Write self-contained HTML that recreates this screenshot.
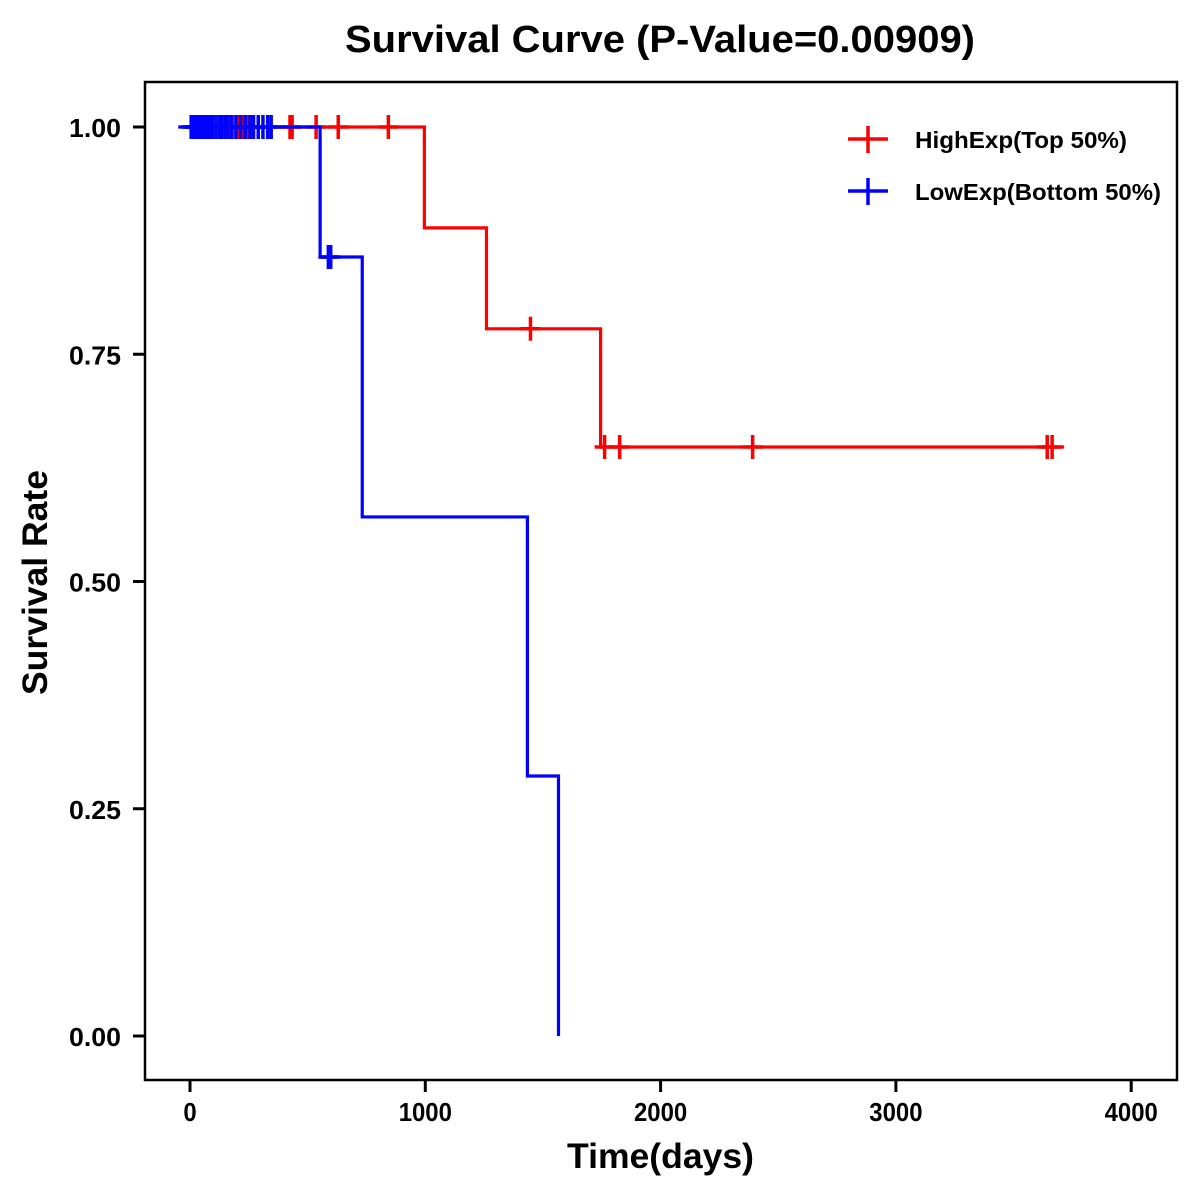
<!DOCTYPE html>
<html><head><meta charset="utf-8"><style>
html,body{margin:0;padding:0;background:#fff;}
svg{display:block;font-family:"Liberation Sans",Arial,sans-serif;}
</style></head><body>
<svg id="chart" width="1200" height="1200">
<rect x="0" y="0" width="1200" height="1200" fill="#fff"/>
<text x="345" y="52" textLength="630" lengthAdjust="spacingAndGlyphs" font-size="38" font-weight="bold">Survival Curve (P-Value=0.00909)</text>
<rect x="145" y="82" width="1032" height="998" fill="none" stroke="#000" stroke-width="2.5"/>
<g id="axes"></g>
<g id="series"></g>
<text x="567" y="1168" textLength="187" lengthAdjust="spacingAndGlyphs" font-size="35" font-weight="bold">Time(days)</text>
<text transform="translate(47,695) rotate(-90)" textLength="225" lengthAdjust="spacingAndGlyphs" font-size="35" font-weight="bold">Survival Rate</text>
<g>
<g>
<line x1="848" y1="139" x2="888" y2="139" stroke="#f00" stroke-width="3.5"/>
<line x1="868" y1="126" x2="868" y2="153" stroke="#f00" stroke-width="3.5"/>
<text x="915" y="148" textLength="212" lengthAdjust="spacingAndGlyphs" font-size="23" font-weight="bold">HighExp(Top 50%)</text>
</g>
<g>
<line x1="848" y1="191" x2="888" y2="191" stroke="#00f" stroke-width="3.5"/>
<line x1="868" y1="178" x2="868" y2="205" stroke="#00f" stroke-width="3.5"/>
<text x="915" y="200" textLength="246" lengthAdjust="spacingAndGlyphs" font-size="23" font-weight="bold">LowExp(Bottom 50%)</text>
</g>
</g>
</svg>
<script>
const xTicks = [0, 1000, 2000, 3000, 4000];
const yTicks = [0, 0.25, 0.5, 0.75, 1.0];
const yTickLabels = ["0.00", "0.25", "0.50", "0.75", "1.00"];
const highTimes = [0, 996, 1260, 1745, 3715];
const highSurv = [1.0, 0.889, 0.778, 0.648, 0.648];
const highCensor = [180, 205, 225, 245, 258, 268, 425, 434, 536, 630, 843, 1447, 1762, 1826, 2391, 3643, 3664];
const lowTimes = [-50, 553, 732, 1434, 1566];
const lowSurv = [1.0, 0.857, 0.571, 0.286, 0.0];
const lowCensor = [5, 12, 20, 28, 35, 45, 55, 65, 75, 85, 95, 110, 125, 135, 150, 160, 175, 195, 215, 235, 255, 270, 290, 310, 330, 345, 588, 598];
const xS = t => 190 + t * 0.2353;
const yS = v => 1036 - v * 909;
const NS = "http://www.w3.org/2000/svg";
const axes = document.getElementById('axes');
const series = document.getElementById('series');
function mk(tag, attrs, parent) {
  const e = document.createElementNS(NS, tag);
  for (const k in attrs) e.setAttribute(k, attrs[k]);
  parent.appendChild(e);
  return e;
}
xTicks.forEach(t => {
  const g = mk('g', {}, axes);
  
  
  mk('line', {x1: xS(t), x2: xS(t), y1: 1080, y2: 1092, stroke: '#000', 'stroke-width': 3}, g);
  const s = String(t);
  const tx = mk('text', {x: xS(t), y: 1121, 'text-anchor': 'middle', 'font-size': 26, 'font-weight': 'bold', textLength: s.length * 13.3, lengthAdjust: 'spacingAndGlyphs'}, g);
  tx.textContent = s;
});
yTicks.forEach((v, i) => {
  const g = mk('g', {}, axes);
  
  
  mk('line', {x1: 133, x2: 145, y1: yS(v), y2: yS(v), stroke: '#000', 'stroke-width': 3}, g);
  const tx = mk('text', {x: 121, y: yS(v) + 10, 'text-anchor': 'end', 'font-size': 26, 'font-weight': 'bold', textLength: 52, lengthAdjust: 'spacingAndGlyphs'}, g);
  tx.textContent = yTickLabels[i];
});
function stepAt(times, surv, t) {
  let s = surv[0];
  for (let i = 0; i < times.length; i++) if (times[i] <= t) s = surv[i];
  return s;
}
function drawSeries(times, surv, cens, color, name) {
  const g = mk('g', {}, series);
  
  
  let d = 'M' + xS(times[0]) + ' ' + yS(surv[0]);
  for (let i = 1; i < times.length; i++) {
    d += ' H' + xS(times[i]) + ' V' + yS(surv[i]);
  }
  mk('path', {d: d, fill: 'none', stroke: color, 'stroke-width': 3.2}, g);
  cens.forEach(t => {
    const s = stepAt(times, surv, t);
    const c = mk('path', {d: 'M' + (xS(t) - 10) + ' ' + yS(s) + ' h20 M' + xS(t) + ' ' + (yS(s) - 12) + ' v24', stroke: color, 'stroke-width': 3.5, fill: 'none'}, g);
    
    
  });
}
drawSeries(highTimes, highSurv, highCensor, '#f00', 'high-exp');
drawSeries(lowTimes, lowSurv, lowCensor, '#00f', 'low-exp');
</script>
</body></html>
